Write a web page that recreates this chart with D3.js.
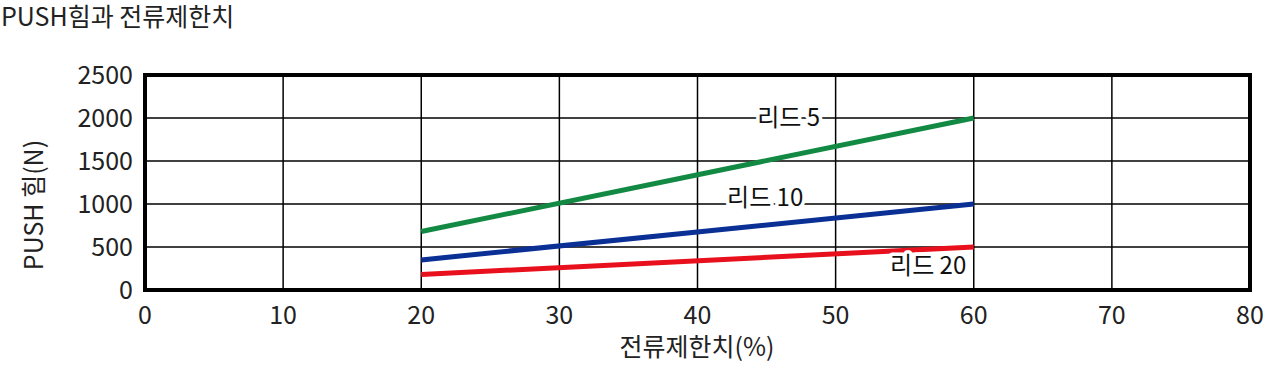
<!DOCTYPE html>
<html><head><meta charset="utf-8">
<script src="https://cdn.jsdelivr.net/npm/d3@7"></script>
<style>body{margin:0;background:#fff;} text{font-family:"Noto Sans CJK KR","Noto Sans",sans-serif;}</style>
</head><body><svg id="c" width="1280" height="368"></svg>
<script>
const xTicks=[0,10,20,30,40,50,60,70,80];
const yTicks=[0,500,1000,1500,2000,2500];
const currentLimit=[20,60];
const lead5=[680,2000];
const lead10=[350,1000];
const lead20=[180,500];
const seriesNames=["리드 5","리드 10","리드 20"];
const colors=["#138a43","#0a2f95","#e8101c"];

const svg=d3.select("#c");
const m={l:145,r:1250,t:75,b:290};
const x=d3.scaleLinear().domain([0,80]).range([m.l,m.r]);
const y=d3.scaleLinear().domain([0,2500]).range([m.b,m.t]);

svg.append("text").attr("x",1).attr("y",26).attr("font-size",25).attr("fill","#222").text("PUSH힘과 전류제한치");

const g=svg.append("g");
g.selectAll(".vg").data(xTicks).join("line").attr("x1",d=>x(d)).attr("x2",d=>x(d)).attr("y1",m.t).attr("y2",m.b).attr("stroke","#000").attr("stroke-width",1.5);
g.selectAll(".hg").data(yTicks).join("line").attr("x1",m.l).attr("x2",m.r).attr("y1",d=>y(d)).attr("y2",d=>y(d)).attr("stroke","#000").attr("stroke-width",1.5);

const series=[lead5,lead10,lead20];
const line=d3.line().x(d=>x(d[0])).y(d=>y(d[1]));
series.forEach((s,i)=>{
  g.append("path").attr("d",line(currentLimit.map((c,j)=>[c,s[j]]))).attr("stroke",colors[i]).attr("stroke-width",5).attr("fill","none");
});

svg.append("rect").attr("x",m.l).attr("y",m.t).attr("width",m.r-m.l).attr("height",m.b-m.t).attr("fill","none").attr("stroke","#000").attr("stroke-width",4);

// labels
const labels=[{t:"리드 5",x:46.6,y:2000},{t:"리드 10",x:44.9,y:1070},{t:"리드 20",x:56.7,y:280}];
labels.forEach(l=>{
  svg.append("text").attr("x",x(l.x)).attr("y",y(l.y)).attr("dy","0.35em").attr("text-anchor","middle").attr("font-size",24)
   .attr("fill","#111").attr("stroke","#fff").attr("stroke-width",7).attr("paint-order","stroke").attr("stroke-linejoin","round").text(l.t);
});

svg.selectAll(".xt").data(xTicks).join("text").attr("x",d=>x(d)).attr("y",324).attr("text-anchor","middle").attr("font-size",25).attr("fill","#222").text(d=>d);
svg.selectAll(".yt").data(yTicks).join("text").attr("x",133).attr("y",d=>y(d)).attr("dy","0.36em").attr("text-anchor","end").attr("font-size",25).attr("fill","#222").text(d=>d);

svg.append("text").attr("x",697).attr("y",356).attr("text-anchor","middle").attr("font-size",25).attr("fill","#222").text("전류제한치(%)");
svg.append("text").attr("transform","translate(43,205) rotate(-90)").attr("text-anchor","middle").attr("font-size",25).attr("fill","#222").text("PUSH 힘(N)");
</script></body></html>
